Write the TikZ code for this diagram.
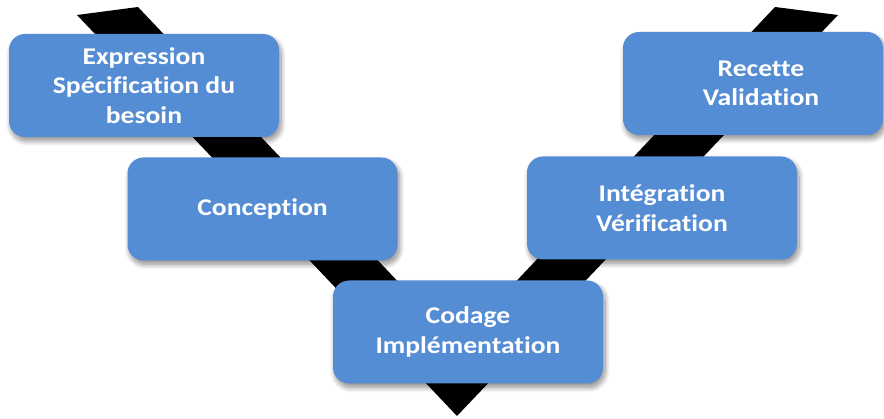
\documentclass[tikz,border=0pt]{standalone}
\usepackage{fontspec}
\setmainfont{Carlito}[FakeStretch=1.15, Ligatures={NoCommon}]
\usetikzlibrary{shadows.blur,calc}
\definecolor{boxblue}{RGB}{85,141,213}
\tikzset{
  phasebox/.style={rectangle, rounded corners=16pt, fill=boxblue, draw=none,
    minimum width=270pt, minimum height=103pt, inner sep=0pt,
    text=white, align=center,
    font=\fontsize{24}{29.5}\selectfont\bfseries,
    blur shadow={shadow xshift=2pt, shadow yshift=-4pt, shadow blur radius=5pt,
      shadow blur steps=12, shadow opacity=45}},
  phasetext/.style={text=white, align=center, inner sep=0pt,
    font=\fontsize{24}{29.5}\selectfont\bfseries},
  vband/.style={fill=black, draw=none}
}
\begin{document}
\begin{tikzpicture}[x=1pt, y=-1pt]
  \useasboundingbox (0,0) rectangle (884,419);
  % the V-shaped band running behind the phases
  \coordinate (vtl1) at (77,15);
  \coordinate (vtl2) at (138,7);
  \coordinate (vin)  at (457,344);
  \coordinate (vtr1) at (775,7);
  \coordinate (vtr2) at (838,15);
  \coordinate (vtip) at (457,416);
  \fill[vband] (vtl1) -- (vtl2) -- (vin) -- (vtr1) -- (vtr2) -- (vtip) -- cycle;

  % phases of the cycle
  \node[phasebox] (expr) at (144,85.5) {Expression\\Spécification du\\besoin};
  \node[phasebox] (conc) at (262.5,209) {Conception};
  \node[phasebox] (code) at (468,332) {Codage\\Implémentation};
  \node[phasebox] (integ) at (662,208) {Intégration\\Vérification};
  \node[phasebox, minimum width=260pt] (recette) at (753,83.5) {};
  \node[phasetext] (recettetxt) at ($(recette.center)+(8,0)$) {Recette\\Validation};
\end{tikzpicture}
\end{document}
